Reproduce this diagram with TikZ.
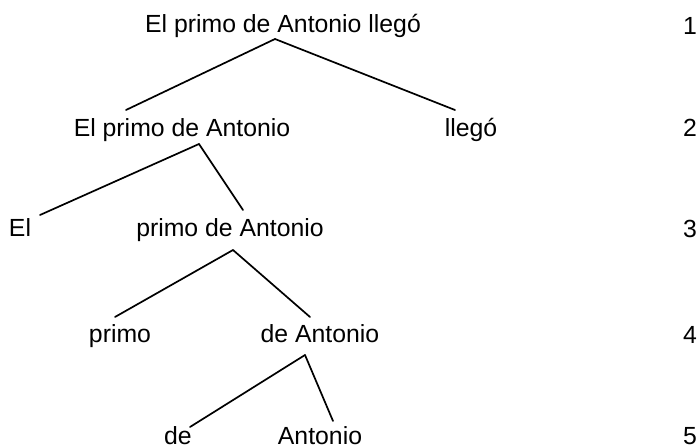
\documentclass[tikz,border=0pt]{standalone}
\usepackage{fontspec}
\setmainfont{Liberation Sans}
\begin{document}
\begin{tikzpicture}[x=1bp,y=-1bp,
  lbl/.style={inner sep=0pt,anchor=base,font=\fontsize{24.8bp}{30bp}\selectfont},
  edge/.style={line width=1.7bp,line cap=round}]
\useasboundingbox (0,0) rectangle (700,448);
% tree labels (x = centre, y = baseline)
\node[lbl] (r) at (283,33) {El primo de Antonio llegó};
\node[lbl] (a) at (182,137) {El primo de Antonio};
\node[lbl] (b) at (471,137) {llegó};
\node[lbl] (c) at (20,237) {El};
\node[lbl] (d) at (230,237) {primo de Antonio};
\node[lbl] (e) at (120,343) {primo};
\node[lbl] (f) at (320,343) {de Antonio};
\node[lbl] (g) at (178,444) {de};
\node[lbl] (h) at (320,444) {Antonio};
% level numbers
\node[lbl] (n1) at (690,35) {1};
\node[lbl] (n2) at (690,137) {2};
\node[lbl] (n3) at (690,238) {3};
\node[lbl] (n4) at (690,344) {4};
\node[lbl] (n5) at (690,444) {5};
% branching points and branch ends
\coordinate (r-s) at (275,39);
\coordinate (a-n) at (126,110);
\coordinate (b-n) at (455,110);
\coordinate (a-s) at (199,144);
\coordinate (c-n) at (40,215);
\coordinate (d-n) at (243,210);
\coordinate (d-s) at (233,250);
\coordinate (e-n) at (115,317);
\coordinate (f-n) at (310,317);
\coordinate (f-s) at (305,355);
\coordinate (g-n) at (190,427);
\coordinate (h-n) at (333,421);
\draw[edge] (r-s) -- (a-n);
\draw[edge] (r-s) -- (b-n);
\draw[edge] (a-s) -- (c-n);
\draw[edge] (a-s) -- (d-n);
\draw[edge] (d-s) -- (e-n);
\draw[edge] (d-s) -- (f-n);
\draw[edge] (f-s) -- (g-n);
\draw[edge] (f-s) -- (h-n);
\end{tikzpicture}
\end{document}
